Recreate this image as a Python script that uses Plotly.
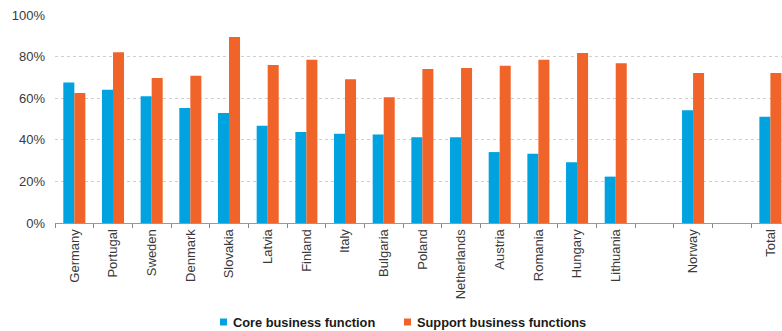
import plotly.graph_objects as go

categories = ["Germany", "Portugal", "Sweden", "Denmark", "Slovakia", "Latvia", "Finland",
              "Italy", "Bulgaria", "Poland", "Netherlands", "Austria", "Romania", "Hungary",
              "Lithuania", " ", "Norway", "  ", "Total"]
core = [67.6, 64.1, 60.9, 55.3, 52.9, 46.8, 43.7, 42.9, 42.6, 41.2, 41.2, 34.1, 33.3, 29.2,
        22.3, None, 54.2, None, 51.1]
support = [62.5, 82.1, 69.7, 70.8, 89.4, 76.0, 78.5, 69.1, 60.4, 74.0, 74.5, 75.6, 78.5, 81.7,
           76.8, None, 72.1, None, 72.1]
series_names = ["Core business function", "Support business functions"]
colors = ["#00A3E0", "#F0642A"]
y_ticks = [0, 20, 40, 60, 80, 100]

W, H = 782, 331
L, R, T, B = 55, 0, 15, 108
pw, ph = W - L - R, H - T - B

fig = go.Figure()
for name, vals, col in zip(series_names, [core, support], colors):
    fig.add_trace(go.Bar(x=categories, y=vals, name=name,
                         marker=dict(color=col, line=dict(width=0)), showlegend=False))

# manual legend (squares + real text)
legend_pos = [(220, 231), (404, 415)]  # square left px, text left px
for (sq_x, tx_x), name, col in zip(legend_pos, series_names, colors):
    yc = 322
    fig.add_shape(type="rect", xref="paper", yref="paper",
                  x0=(sq_x - L) / pw, x1=(sq_x + 7 - L) / pw,
                  y0=(H - B - (yc + 3.5)) / ph, y1=(H - B - (yc - 3.5)) / ph,
                  fillcolor=col, line=dict(width=0))
    fig.add_annotation(xref="paper", yref="paper", x=(tx_x - L) / pw, y=(H - B - yc) / ph,
                       xanchor="left", yanchor="middle", showarrow=False, text=name,
                       font=dict(size=12.8, color="#1a1a1a", weight="bold"))

fig.update_layout(
    width=W, height=H,
    margin=dict(l=L, r=R, t=T, b=B, autoexpand=False),
    plot_bgcolor="white", paper_bgcolor="white",
    barmode="group", bargap=0.43, bargroupgap=0,
    font=dict(family="Liberation Sans, Arial", size=13, color="#3a3a3a"),
    showlegend=False,
    xaxis=dict(type="category", range=[-0.5, 18.3], tickangle=-90, ticks="outside",
               tickson="boundaries", ticklen=4, tickcolor="#888", showline=True,
               linecolor="#999", linewidth=1, showgrid=False, automargin=False,
               tickfont=dict(size=13, color="#3a3a3a")),
    yaxis=dict(range=[0, 100], tickvals=y_ticks, ticktext=[f"{v}%" for v in y_ticks],
               showgrid=True, gridcolor="#cfcfcf", griddash="dot", gridwidth=1,
               zeroline=False, showline=False, automargin=False, ticklabelstandoff=9,
               tickfont=dict(size=13, color="#3a3a3a"), ticks="", ticklen=0),
)
fig.write_html("out.html", config={"displayModeBar": False},
               post_script="document.body.style.margin='0';")
